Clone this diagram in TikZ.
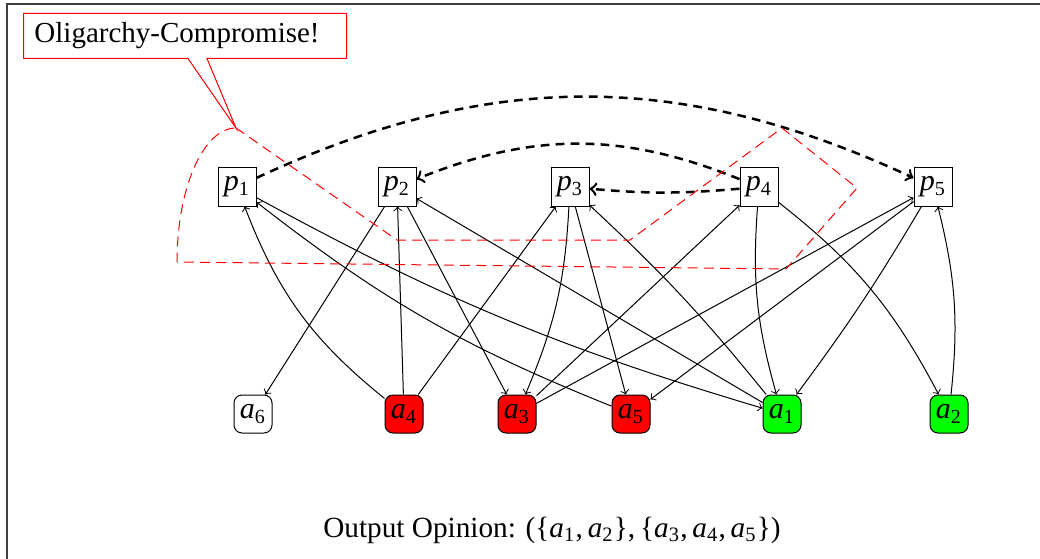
\documentclass[tikz,border=0pt]{standalone}
\usepackage{fontspec}
\setmainfont{Liberation Serif}
\usetikzlibrary{shapes.callouts}
% variable with a subscript index, e.g. \vx{p}{1}
\newcommand\vx[2]{\textit{#1}\textsubscript{#2}}
\begin{document}
\begin{tikzpicture}[x=0.4pt,y=0.4pt,
  every node/.style={font=\fontsize{11.7pt}{14pt}\selectfont},
  pnode/.style={draw, minimum size=15.2pt, inner sep=0pt, font=\fontsize{12pt}{14pt}\selectfont},
  anode/.style={draw, rounded corners=3.2pt, minimum size=15.2pt, inner sep=0pt, font=\fontsize{12pt}{14pt}\selectfont},
  link/.style={->},
  pref/.style={->, line width=1pt, dash pattern=on 3.5pt off 2.5pt},
  region/.style={draw=red, dash pattern=on 4pt off 2.5pt}]
\useasboundingbox (0,0) rectangle (1040,-559);
% frame
\draw[black!75, line width=0.5pt] (7,-559) -- (7,-4) -- (1040,-4);

% proposal nodes
\node[pnode] (p1) at (237,-187) {\vx p1};
\node[pnode] (p2) at (397,-187) {\vx p2};
\node[pnode] (p3) at (570,-187) {\vx p3};
\node[pnode] (p4) at (759,-187) {\vx p4};
\node[pnode] (p5) at (933,-187) {\vx p5};

% agent nodes
\node[anode, fill=white] (a6) at (253,-414) {\vx a6};
\node[anode, fill=red]   (a4) at (404,-414) {\vx a4};
\node[anode, fill=red]   (a3) at (517,-414) {\vx a3};
\node[anode, fill=red]   (a5) at (631,-414) {\vx a5};
\node[anode, fill=green] (a1) at (782,-414) {\vx a1};
\node[anode, fill=green] (a2) at (949,-414) {\vx a2};

% preference edges between proposals
\draw[pref] (p1) to[bend left=25] (p5);
\draw[pref] (p4) to[bend right=22] (p2);
\draw[pref] (p4) to[bend left=5] (p3);

% agent/proposal edges
\draw[link] (a4) to[bend left=15] (p1);
\draw[link] (a5) to[bend left=8] (p1);
\draw[link] (p1) to[bend right=6] (a1);
\draw[link] (p2) -- (a6);
\draw[link] (a4) -- (p2);
\draw[link] (p2) -- (a3);
\draw[link] (a1) -- (p2);
\draw[link] (a4) -- (p3);
\draw[link] (p3) to[bend left=10] (a3);
\draw[link] (p3) -- (a5);
\draw[link] (a1) to[bend right=4] (p3);
\draw[link] (a3) -- (p4);
\draw[link] (p4) to[bend right=10] (a1);
\draw[link] (p4) to[bend left=12] (a2);
\draw[link] (a3) -- (p5);
\draw[link] (p5) -- (a5);
\draw[link] (p5) to[bend left=3] (a1);
\draw[link] (a2) to[bend right=10] (p5);

% highlighted region and its callout
\coordinate (tip) at (236,-128);
\draw[region] (tip) -- (397,-240) -- (630,-240) -- (782,-128) -- (857,-188)
  -- (786,-269) -- (177,-262) arc[start angle=180, end angle=90, x radius=59, y radius=134];
\node[rectangle callout, draw=red, anchor=north west, inner xsep=4.4pt,
  text width=120.4pt, align=left, minimum height=18pt,
  callout absolute pointer={(tip)}, callout pointer width=7.6pt,
  font=\fontsize{11.6pt}{14pt}\selectfont] (note) at (23,-13) {Oligarchy-Compromise!};

% result
\node[anchor=base] (result) at (552,-537)
  {Output Opinion: (\{\vx a1,\,\vx a2\},\,\{\vx a3,\,\vx a4,\,\vx a5\})};
\end{tikzpicture}
\end{document}
